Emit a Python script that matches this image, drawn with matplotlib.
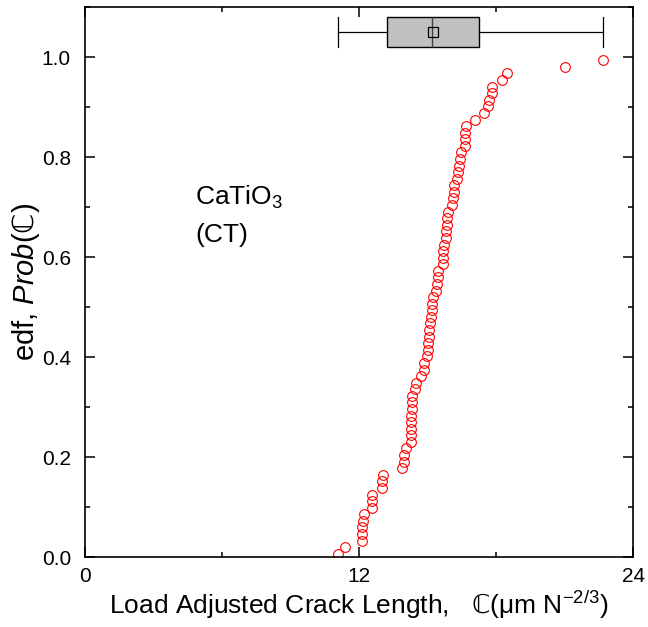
import numpy as np
import matplotlib.pyplot as plt
from matplotlib.ticker import MultipleLocator, FormatStrFormatter

# Valeurs (longueur de fissure ajustée, triées)
crack_length = [
    11.10, 11.39, 12.12, 12.12, 12.15, 12.19, 12.23, 12.58, 12.58, 12.58,
    13.00, 13.00, 13.04, 13.87, 13.97, 13.97, 14.06, 14.27, 14.27, 14.28,
    14.28, 14.28, 14.31, 14.32, 14.34, 14.45, 14.49, 14.70, 14.85, 14.85,
    14.97, 15.04, 15.04, 15.08, 15.08, 15.11, 15.16, 15.21, 15.21, 15.26,
    15.36, 15.41, 15.45, 15.45, 15.69, 15.69, 15.69, 15.72, 15.81, 15.81,
    15.84, 15.84, 15.91, 16.09, 16.13, 16.18, 16.18, 16.31, 16.35, 16.40,
    16.43, 16.46, 16.64, 16.64, 16.64, 16.68, 17.08, 17.48, 17.64, 17.70,
    17.81, 17.84, 18.28, 18.50, 21.02, 22.69,
]

# Boîte à moustaches
box_low = 13.23
box_high = 17.26
box_median = 15.20
box_mean = 15.24
box_ypos = 1.05

x = np.array(crack_length)
n = len(x)
edf = (np.arange(1, n + 1) - 0.5) / n

plt.rcParams['font.family'] = ['Liberation Sans', 'DejaVu Sans']
plt.rcParams['mathtext.fontset'] = 'custom'
plt.rcParams['mathtext.rm'] = 'Liberation Sans'
plt.rcParams['mathtext.it'] = 'Liberation Sans:italic'
plt.rcParams['mathtext.sf'] = 'DejaVu Sans'  # pour le glyphe ℂ

fig = plt.figure(figsize=(6.48, 6.27), dpi=100)
ax = fig.add_axes([0.131, 0.1116, 0.846, 0.8772])

ax.plot(x, edf, 'o', mfc='none', mec='red', ms=7, mew=0.8, ls='none')

stats = [{
    'whislo': x.min(), 'q1': box_low, 'med': box_median,
    'q3': box_high, 'whishi': x.max(), 'mean': box_mean, 'fliers': [],
}]
ax.bxp(stats, positions=[box_ypos], widths=0.059, capwidths=0.059,
       orientation='horizontal', patch_artist=True, showmeans=True,
       boxprops=dict(facecolor='#c0c0c0', edgecolor='black', lw=1.0),
       medianprops=dict(color='#404040', lw=1.0),
       whiskerprops=dict(color='black', lw=0.9),
       capprops=dict(color='black', lw=0.9),
       meanprops=dict(marker='s', mfc='none', mec='black', ms=7, mew=0.9))

ax.set_xlim(0, 24)
ax.set_ylim(0, 1.1)
ax.xaxis.set_major_locator(MultipleLocator(12))
ax.xaxis.set_minor_locator(MultipleLocator(6))
ax.yaxis.set_major_locator(MultipleLocator(0.2))
ax.yaxis.set_minor_locator(MultipleLocator(0.1))
ax.yaxis.set_major_formatter(FormatStrFormatter('%.1f'))
ax.xaxis.set_major_formatter(FormatStrFormatter('%d'))
ax.tick_params(which='both', direction='in', top=True, right=True, width=1.1)
ax.tick_params(which='major', length=7, labelsize=15)
ax.tick_params(axis='y', which='major', pad=10)
ax.tick_params(axis='x', which='major', pad=7)
ax.tick_params(which='minor', length=3.5)
for s in ax.spines.values():
    s.set_linewidth(1.2)

ax.text(4.82, 0.72, 'CaTiO$_3$', fontsize=19, va='center')
ax.text(4.82, 0.645, '(CT)', fontsize=19, va='center')

ax.set_xlabel('Load Adjusted Crack Length,   $\\mathsf{ℂ}$(μm N$^{-2/3}$)',
              fontsize=19, labelpad=2)
ax.set_ylabel('edf, $\\it{Prob}$($\\mathsf{ℂ}$)', fontsize=21, labelpad=0)

plt.savefig('out.png', dpi=100)
plt.close()
